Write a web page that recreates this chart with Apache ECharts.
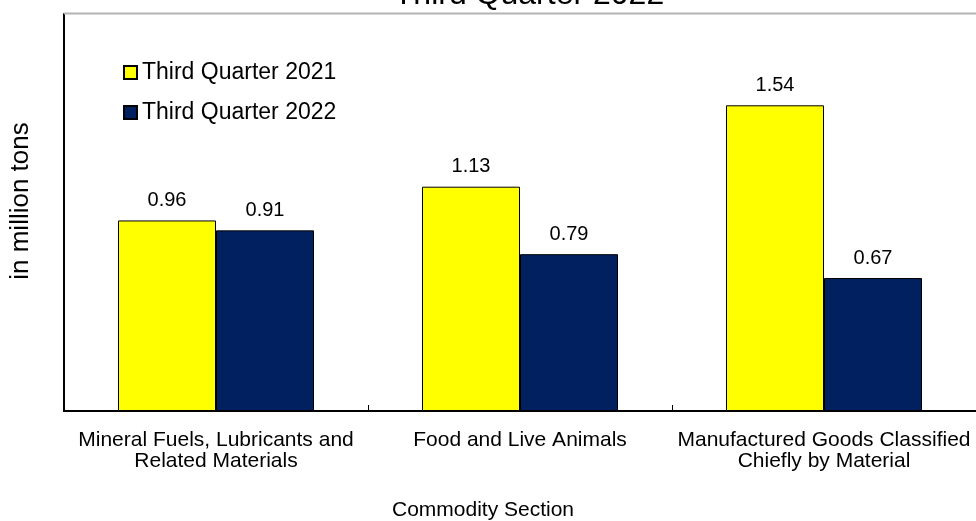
<!DOCTYPE html>
<html>
<head>
<meta charset="utf-8">
<script src="https://cdn.jsdelivr.net/npm/echarts@6/dist/echarts.min.js"></script>
<style>
html,body{margin:0;padding:0;background:#fff;}
#chart{width:976px;height:521px;}
</style>
</head>
<body>
<div id="chart"></div>
<script>
var categories = ['Mineral Fuels, Lubricants and\nRelated Materials', 'Food and Live Animals', 'Manufactured Goods Classified\nChiefly by Material'];
var series2021 = [0.96, 1.13, 1.54];
var series2022 = [0.91, 0.79, 0.67];
var seriesNames = ['Third Quarter 2021', 'Third Quarter 2022'];
var titleText = 'Third Quarter 2022';
var yAxisTitle = 'in million tons';
var xAxisTitle = 'Commodity Section';

var FONT = '"Liberation Sans", Arial, sans-serif';
var chart = echarts.init(document.getElementById('chart'));
var labelCfg = {
  show: true, position: 'top', distance: 10,
  color: '#000', fontSize: 20, fontFamily: FONT,
  formatter: function (p) { return p.value.toFixed(2); }
};
chart.setOption({
  animation: false,
  backgroundColor: '#fff',
  title: {
    text: titleText, left: 524, top: -26, textAlign: 'center',
    textStyle: { fontSize: 32, fontWeight: 'normal', color: '#000', fontFamily: FONT }
  },
  legend: {
    orient: 'vertical', left: 118, top: 56, itemWidth: 13, itemHeight: 13, itemGap: 17,
    icon: 'rect',
    textStyle: { fontSize: 23, color: '#000', fontFamily: FONT },
    data: seriesNames
  },
  grid: { left: 64, right: 0, top: 14, bottom: 110 },
  xAxis: {
    type: 'category', data: categories,
    axisLine: { lineStyle: { color: '#000', width: 2 } },
    axisTick: { show: true, inside: true, length: 6, alignWithLabel: false, lineStyle: { color: '#000' } },
    axisLabel: { color: '#000', fontSize: 21, fontFamily: FONT, lineHeight: 21, margin: 19, interval: 0 }
  },
  yAxis: {
    type: 'value', min: 0, max: 2,
    axisLine: { show: true, lineStyle: { color: '#000', width: 2 } },
    axisTick: { show: false }, axisLabel: { show: false }, splitLine: { show: false }
  },
  graphic: [
    { type: 'line', shape: { x1: 64, y1: 13.5, x2: 976, y2: 13.5 }, style: { stroke: '#b4b4b4', lineWidth: 2 }, z: 100 },
    { type: 'text', x: 21, y: 201, rotation: Math.PI / 2,
      style: { text: yAxisTitle, fontSize: 26, fontFamily: FONT, fill: '#000', align: 'center', verticalAlign: 'middle' } },
    { type: 'text', x: 483, y: 510,
      style: { text: xAxisTitle, fontSize: 21, fontFamily: FONT, fill: '#000', align: 'center', verticalAlign: 'middle' } }
  ],
  series: [
    { name: seriesNames[0], type: 'bar', data: series2021, barWidth: 98, barGap: '0%',
      itemStyle: { color: '#FFFF00', borderColor: '#000', borderWidth: 1 }, label: labelCfg },
    { name: seriesNames[1], type: 'bar', data: series2022, barWidth: 98,
      itemStyle: { color: '#002060', borderColor: '#000', borderWidth: 1 }, label: labelCfg }
  ]
});
</script>
</body>
</html>
